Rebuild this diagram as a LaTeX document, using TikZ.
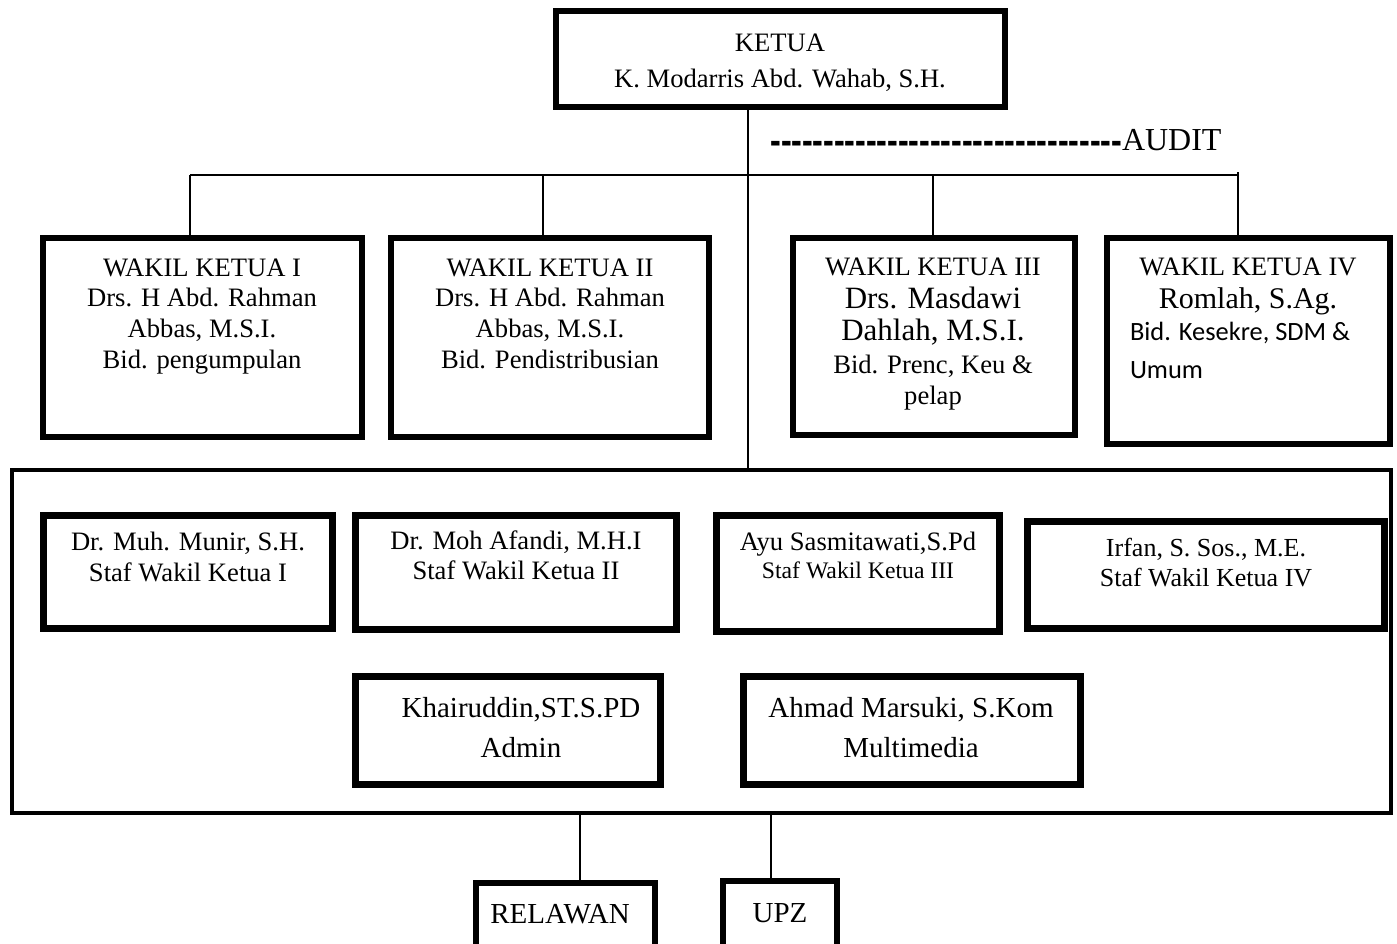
\documentclass[tikz,border=0pt]{standalone}
\usepackage{graphicx}
\usepackage{fontspec}
\setmainfont{Liberation Serif}
\newfontfamily\calib{Carlito}
\newcommand\fsz[1]{\fontsize{#1pt}{#1pt}\selectfont}
% box given by outer edges: [line width]{name}{x1}{y1}{x2}{y2}
\newcommand\orgbox[6][6]{%
  \node[orgframe, line width=#1pt, minimum width={#5-#3-#1}, minimum height={#6-#4-#1}]
    (#2) at ({(#3+#5)/2},{(#4+#6)/2}) {};}
% text line: {name}{x}{baseline y}{size}{text}
\newcommand\tline[5]{%
  \node[txtline, font=\fsz{#4}] (#1) at (#2,#3) {#5};}
\newcommand\tlinew[5]{%
  \node[txtline, anchor=base west, font=\calib\fsz{#4}] (#1) at (#2,#3) {#5};}
\newcommand\dashrow{\count255=0 \loop\mbox{-}\advance\count255 by 1 \ifnum\count255<33 \repeat}
\begin{document}
\begin{tikzpicture}[x=1pt,y=-1pt,
  orgframe/.style={draw=black, fill=white, inner sep=0pt, outer sep=0pt},
  txtline/.style={anchor=base, inner sep=0pt, outer sep=0pt, text=black},
  conn/.style={draw=black, line width=2pt}]
\useasboundingbox (0,0) rectangle (1397,943);
\clip (0,0) rectangle (1397,943);
\fill[white] (0,0) rectangle (1397,943);

% ---- boxes ----
\orgbox{ketua}{553}{8}{1008}{110}
\orgbox{w1}{40}{235}{365}{440}
\orgbox{w2}{388}{235}{712}{440}
\orgbox{w3}{790}{235}{1078}{438}
\orgbox{w4}{1104}{235}{1393}{447}
\orgbox[4]{staff}{10}{468}{1393}{815}
\orgbox[7]{s1}{40}{512}{336}{632}
\orgbox[7]{s2}{352}{512}{680}{633}
\orgbox[7]{s3}{713}{512}{1003}{635}
\orgbox[7]{s4}{1024}{518}{1388}{632}
\orgbox[7]{s5}{352}{673}{664}{788}
\orgbox[7]{s6}{740}{673}{1084}{788}
\orgbox{relawan}{473}{880}{658}{950}
\orgbox{upz}{720}{878}{840}{950}

% ---- connectors ----
\coordinate (hub) at (748,175);
\coordinate (barL) at (190,175);
\coordinate (barR) at (1238,175);
\coordinate (c2) at (543,175);
\coordinate (c3) at (933,175);
\coordinate (b1) at (580,815);
\coordinate (b2) at (771,815);
\draw[conn] (ketua.south -| hub) -- (hub |- staff.north);
\draw[conn] (barL) -- (barR);
\draw[conn] (barL) -- (barL |- w1.north);
\draw[conn] (c2) -- (c2 |- w2.north);
\draw[conn] (c3) -- (c3 |- w3.north);
\draw[conn] ([yshift=3pt]barR) -- (barR |- w4.north);
\draw[conn] (b1 |- staff.south) -- (b1 |- relawan.north);
\draw[conn] (b2 |- staff.south) -- (b2 |- upz.north);

% ---- texts ----
\tline{k1}{780}{51}{26.6}{KETUA}
\tline{k2}{780}{87}{26.6}{K. Modarris Abd. Wahab, S.H.}
\node[txtline, anchor=base west, font=\fsz{32}] (audit) at (1122,150) {AUDIT};
\node[txtline, anchor=base east, font=\bfseries\fsz{32}] (dashes) at (1122,156) {\scalebox{1}[1.7]{\dashrow}};

\tline{w1a}{202}{276}{26.6}{WAKIL KETUA I}
\tline{w1b}{202}{306}{26.6}{Drs. H Abd. Rahman}
\tline{w1c}{202}{337}{26.6}{Abbas, M.S.I.}
\tline{w1d}{202}{368}{26.6}{Bid. pengumpulan}

\tline{w2a}{550}{276}{26.6}{WAKIL KETUA II}
\tline{w2b}{550}{306}{26.6}{Drs. H Abd. Rahman}
\tline{w2c}{550}{337}{26.6}{Abbas, M.S.I.}
\tline{w2d}{550}{368}{26.6}{Bid. Pendistribusian}

\tline{w3a}{933}{275}{26.6}{WAKIL KETUA III}
\tline{w3b}{933}{308}{31}{Drs. Masdawi}
\tline{w3c}{933}{340}{31}{Dahlah, M.S.I.}
\tline{w3d}{933}{373}{26.6}{Bid. Prenc, Keu \&}
\tline{w3e}{933}{404}{26.6}{pelap}

\tline{w4a}{1248}{275}{26.6}{WAKIL KETUA IV}
\tline{w4b}{1248}{308}{30}{Romlah, S.Ag.}
\tlinew{w4c}{1130}{340}{26.4}{Bid. Kesekre, SDM \&}
\tlinew{w4d}{1130}{378}{26.4}{Umum}

\tline{s1a}{188}{550}{26.6}{Dr. Muh. Munir, S.H.}
\tline{s1b}{188}{581}{26.6}{Staf Wakil Ketua I}
\tline{s2a}{516}{549}{26.6}{Dr. Moh Afandi, M.H.I}
\tline{s2b}{516}{579}{26.6}{Staf Wakil Ketua II}
\tline{s3a}{858}{550}{26.6}{Ayu Sasmitawati,S.Pd}
\tline{s3b}{858}{578}{23.7}{Staf Wakil Ketua III}
\tline{s4a}{1206}{556}{26}{Irfan, S. Sos., M.E.}
\tline{s4b}{1206}{586}{26}{Staf Wakil Ketua IV}
\tline{s5a}{521}{717}{29}{Khairuddin,ST.S.PD}
\tline{s5b}{521}{757}{29}{Admin}
\tline{s6a}{911}{717}{29}{Ahmad Marsuki, S.Kom}
\tline{s6b}{911}{757}{29}{Multimedia}
\tline{r1}{560}{923}{29}{RELAWAN}
\tline{u1}{780}{922}{29}{UPZ}
\end{tikzpicture}
\end{document}
